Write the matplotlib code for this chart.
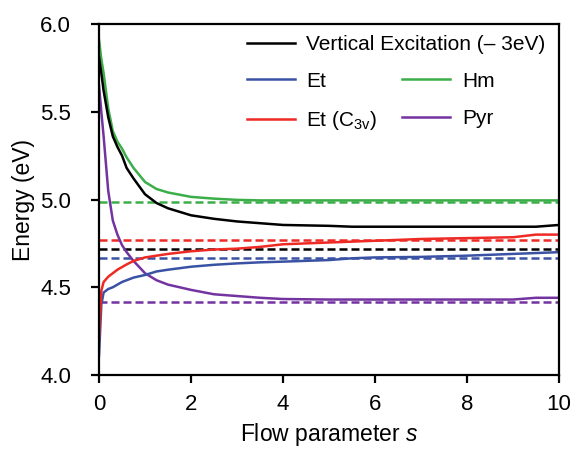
import matplotlib
matplotlib.use("Agg")
import matplotlib.pyplot as plt
from matplotlib.lines import Line2D

plt.rcParams['font.family'] = 'Liberation Sans'
plt.rcParams['mathtext.fontset'] = 'custom'
plt.rcParams['mathtext.rm'] = 'Liberation Sans'
plt.rcParams['mathtext.it'] = 'Liberation Sans:italic'

# flow parameter grid (denser near s = 0 where things move fast)
s = [0, 0.05, 0.1, 0.2, 0.3, 0.4, 0.5, 0.6, 0.75, 1.0, 1.25, 1.5, 2.0, 2.5,
     3.0, 3.5, 4.0, 5.0, 5.5, 6.0, 7.0, 8.0, 9.0, 9.5, 10.0]

vert_exc = [5.81, 5.72, 5.62, 5.47, 5.36, 5.30, 5.25, 5.18, 5.12, 5.03, 4.98,
            4.95, 4.91, 4.89, 4.875, 4.865, 4.855, 4.85, 4.845, 4.845, 4.845,
            4.845, 4.845, 4.845, 4.855]
et = [4.11, 4.40, 4.47, 4.49, 4.50, 4.515, 4.53, 4.54, 4.555, 4.57, 4.59,
      4.60, 4.617, 4.628, 4.636, 4.642, 4.646, 4.655, 4.665, 4.67, 4.673,
      4.68, 4.69, 4.695, 4.70]
et_c3v = [4.21, 4.48, 4.53, 4.56, 4.58, 4.60, 4.615, 4.63, 4.65, 4.67, 4.68,
          4.69, 4.705, 4.715, 4.72, 4.73, 4.745, 4.755, 4.76, 4.765, 4.775,
          4.78, 4.785, 4.80, 4.80]
hm = [5.91, 5.80, 5.72, 5.52, 5.39, 5.33, 5.29, 5.24, 5.18, 5.10, 5.06,
      5.04, 5.015, 5.005, 4.998, 4.995, 4.995, 4.995, 4.995, 4.995, 4.995,
      4.995, 4.995, 4.995, 4.995]
pyr = [5.65, 5.50, 5.36, 5.05, 4.88, 4.80, 4.74, 4.70, 4.65, 4.58, 4.54,
       4.515, 4.485, 4.46, 4.45, 4.44, 4.433, 4.43, 4.43, 4.43, 4.43, 4.43,
       4.43, 4.44, 4.44]

# reference energies (dashed)
ref_vert = 4.716
ref_et = 4.665
ref_et_c3v = 4.769
ref_hm = 4.985
ref_pyr = 4.418

c_black = 'black'
c_blue = '#3a52a4'
c_red = '#ee2a24'
c_green = '#3cae49'
c_purple = '#7333a0'
lw = 1.8

fig = plt.figure(figsize=(5.73, 4.49), dpi=100)
ax = fig.add_axes([0.1728, 0.1648, 0.8028, 0.7817])

dash = (0, (3.2, 1.6))
for val, col in [(ref_hm, c_green), (ref_et_c3v, c_red), (ref_vert, c_black),
                 (ref_et, c_blue), (ref_pyr, c_purple)]:
    ax.plot([0, 10], [val, val], color=col, lw=lw, linestyle=dash)

ax.plot(s, pyr, color=c_purple, lw=lw)
ax.plot(s, et, color=c_blue, lw=lw)
ax.plot(s, et_c3v, color=c_red, lw=lw)
ax.plot(s, hm, color=c_green, lw=lw)
ax.plot(s, vert_exc, color=c_black, lw=lw)

ax.set_xlim(0, 10)
ax.set_ylim(4.0, 6.0)
ax.set_xticks([0, 2, 4, 6, 8, 10])
ax.set_yticks([4.0, 4.5, 5.0, 5.5, 6.0])
ax.set_yticklabels(['4.0', '4.5', '5.0', '5.5', '6.0'])
ax.tick_params(direction='out', length=6, width=1.6, labelsize=16)
ax.tick_params(axis='x', pad=8)
ax.tick_params(axis='y', pad=14)
for sp in ax.spines.values():
    sp.set_linewidth(1.6)

ax.set_xlabel('Flow parameter $s$', fontsize=16.5, labelpad=4)
ax.set_ylabel('Energy (eV)', fontsize=16.5, labelpad=4)

h_vert = Line2D([], [], color=c_black, lw=lw)
leg1 = ax.legend([h_vert], ['Vertical Excitation (\u2013 3eV)'], loc='upper left',
                 bbox_to_anchor=(0.294, 1.004), frameon=False, fontsize=15,
                 handlelength=2.3, handletextpad=0.55, borderaxespad=0.2)
ax.add_artist(leg1)

handles = [Line2D([], [], color=c, lw=lw) for c in (c_blue, c_red, c_green, c_purple)]
labels = ['Et', r'Et (C$_\mathrm{3v}$)', 'Hm', 'Pyr']
ax.legend(handles, labels, ncol=2, loc='upper left', bbox_to_anchor=(0.294, 0.90),
          frameon=False, fontsize=15, handlelength=2.3, handletextpad=0.55,
          columnspacing=1.2, labelspacing=0.9, borderaxespad=0.2)

fig.savefig('out.png', dpi=100)
